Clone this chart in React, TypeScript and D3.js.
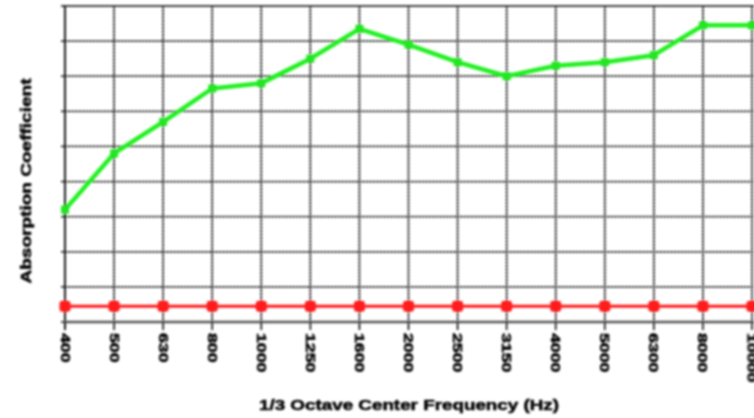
import React from "react";
import * as d3 from "d3";

const frequencies = ["400", "500", "630", "800", "1000", "1250", "1600", "2000", "2500", "3150", "4000", "5000", "6300", "8000", "10000"];
const greenSeries = [0.32, 0.48, 0.57, 0.665, 0.68, 0.75, 0.835, 0.79, 0.74, 0.70, 0.73, 0.74, 0.76, 0.845, 0.845];
const redSeries = [0.045, 0.045, 0.045, 0.045, 0.045, 0.045, 0.045, 0.045, 0.045, 0.045, 0.045, 0.045, 0.045, 0.045, 0.045];
const yTicks = [0, 0.1, 0.2, 0.3, 0.4, 0.5, 0.6, 0.7, 0.8, 0.9];
const xTitle = "1/3 Octave Center Frequency (Hz)";
const yTitle = "Absorption Coefficient";

export default function App() {
  const W = 754, H = 418;
  const left = 65, right = 752, top = 6, bottom = 322;
  const x = d3.scalePoint<string>().domain(frequencies).range([left, right]);
  const y = d3.scaleLinear().domain([0, 0.9]).range([bottom, top]);
  const line = d3.line<number>().x((_, i) => x(frequencies[i])!).y((d) => y(d));
  const font = "'Liberation Sans', Arial, sans-serif";

  return (
    <div style={{ position: "absolute", left: 0, top: 0, width: W, height: H, background: "#fff" }}>
      <svg width={W} height={H} style={{ display: "block" }}>
        <defs>
          <filter id="soft" x="-5%" y="-5%" width="110%" height="110%">
            <feGaussianBlur stdDeviation="0.85" />
          </filter>
        </defs>
        <rect width={W} height={H} fill="#fff" />
        <g filter="url(#soft)">
          {/* horizontal grid */}
          {yTicks.slice(1, -1).map((t) => (
            <g key={"h" + t}>
              <line x1={left} x2={W} y1={y(t)} y2={y(t)} stroke="#8a8a8a" strokeWidth={1.2} />
              <line x1={left} x2={W} y1={y(t)} y2={y(t)} stroke="#000" strokeWidth={1.8} strokeDasharray="2,1.5" />
            </g>
          ))}
          {/* vertical grid */}
          {frequencies.slice(1).map((f) => (
            <g key={"v" + f}>
              <line x1={x(f)} x2={x(f)} y1={top} y2={bottom} stroke="#777" strokeWidth={1.2} />
              <line x1={x(f)} x2={x(f)} y1={top} y2={bottom} stroke="#000" strokeWidth={1.8} strokeDasharray="2,1.5" />
            </g>
          ))}
          {/* top border */}
          <line x1={left - 2} x2={W} y1={top} y2={top} stroke="#444" strokeWidth={2} />
          {/* left axis */}
          <line x1={left} x2={left} y1={top} y2={bottom + 8} stroke="#222" strokeWidth={2} />
          {yTicks.map((t) => (
            <line key={"yt" + t} x1={left - 4} x2={left} y1={y(t)} y2={y(t)} stroke="#222" strokeWidth={1.6} />
          ))}
          {/* bottom axis */}
          <line x1={left - 2} x2={W} y1={bottom} y2={bottom} stroke="#555" strokeWidth={2.4} />
          {frequencies.map((f) => (
            <line key={"xt" + f} x1={x(f)} x2={x(f)} y1={bottom} y2={bottom + 8} stroke="#111" strokeWidth={1.6} />
          ))}
          {/* red series */}
          <path d={line(redSeries) || ""} fill="none" stroke="#ff1a1a" strokeWidth={3} />
          {redSeries.map((v, i) => (
            <rect key={"r" + i} x={x(frequencies[i])! - 5.5} y={y(v) - 5.5} width={11} height={11} rx={3} fill="#ff1a1a" />
          ))}
          {/* green series */}
          <path d={line(greenSeries) || ""} fill="none" stroke="#22f022" strokeWidth={4.5} strokeLinejoin="round" />
          {greenSeries.map((v, i) => (
            <rect key={"g" + i} x={x(frequencies[i])! - 4} y={y(v) - 4} width={8} height={8} fill="#22e622" />
          ))}
          {/* x tick labels */}
          {frequencies.map((f) => (
            <text
              key={"xl" + f}
              transform={`translate(${x(f)! - 4.5},333) rotate(90) scale(1.42,1)`}
              fontFamily={font}
              fontWeight="bold"
              fontSize={12.5}
              fill="#000"
              stroke="#000"
              strokeWidth={0.5}
              textAnchor="start"
            >
              {f}
            </text>
          ))}
          {/* axis titles */}
          <text
            x={409}
            y={410}
            textAnchor="middle"
            fontFamily={font}
            fontWeight="bold"
            fontSize={14}
            textLength={300}
            lengthAdjust="spacingAndGlyphs"
            fill="#000"
            stroke="#000"
            strokeWidth={0.5}
          >
            {xTitle}
          </text>
          <text
            transform={`translate(31,181) rotate(-90)`}
            textAnchor="middle"
            fontFamily={font}
            fontWeight="bold"
            fontSize={14}
            textLength={205}
            lengthAdjust="spacingAndGlyphs"
            fill="#000"
            stroke="#000"
            strokeWidth={0.5}
          >
            {yTitle}
          </text>
        </g>
      </svg>
    </div>
  );
}
